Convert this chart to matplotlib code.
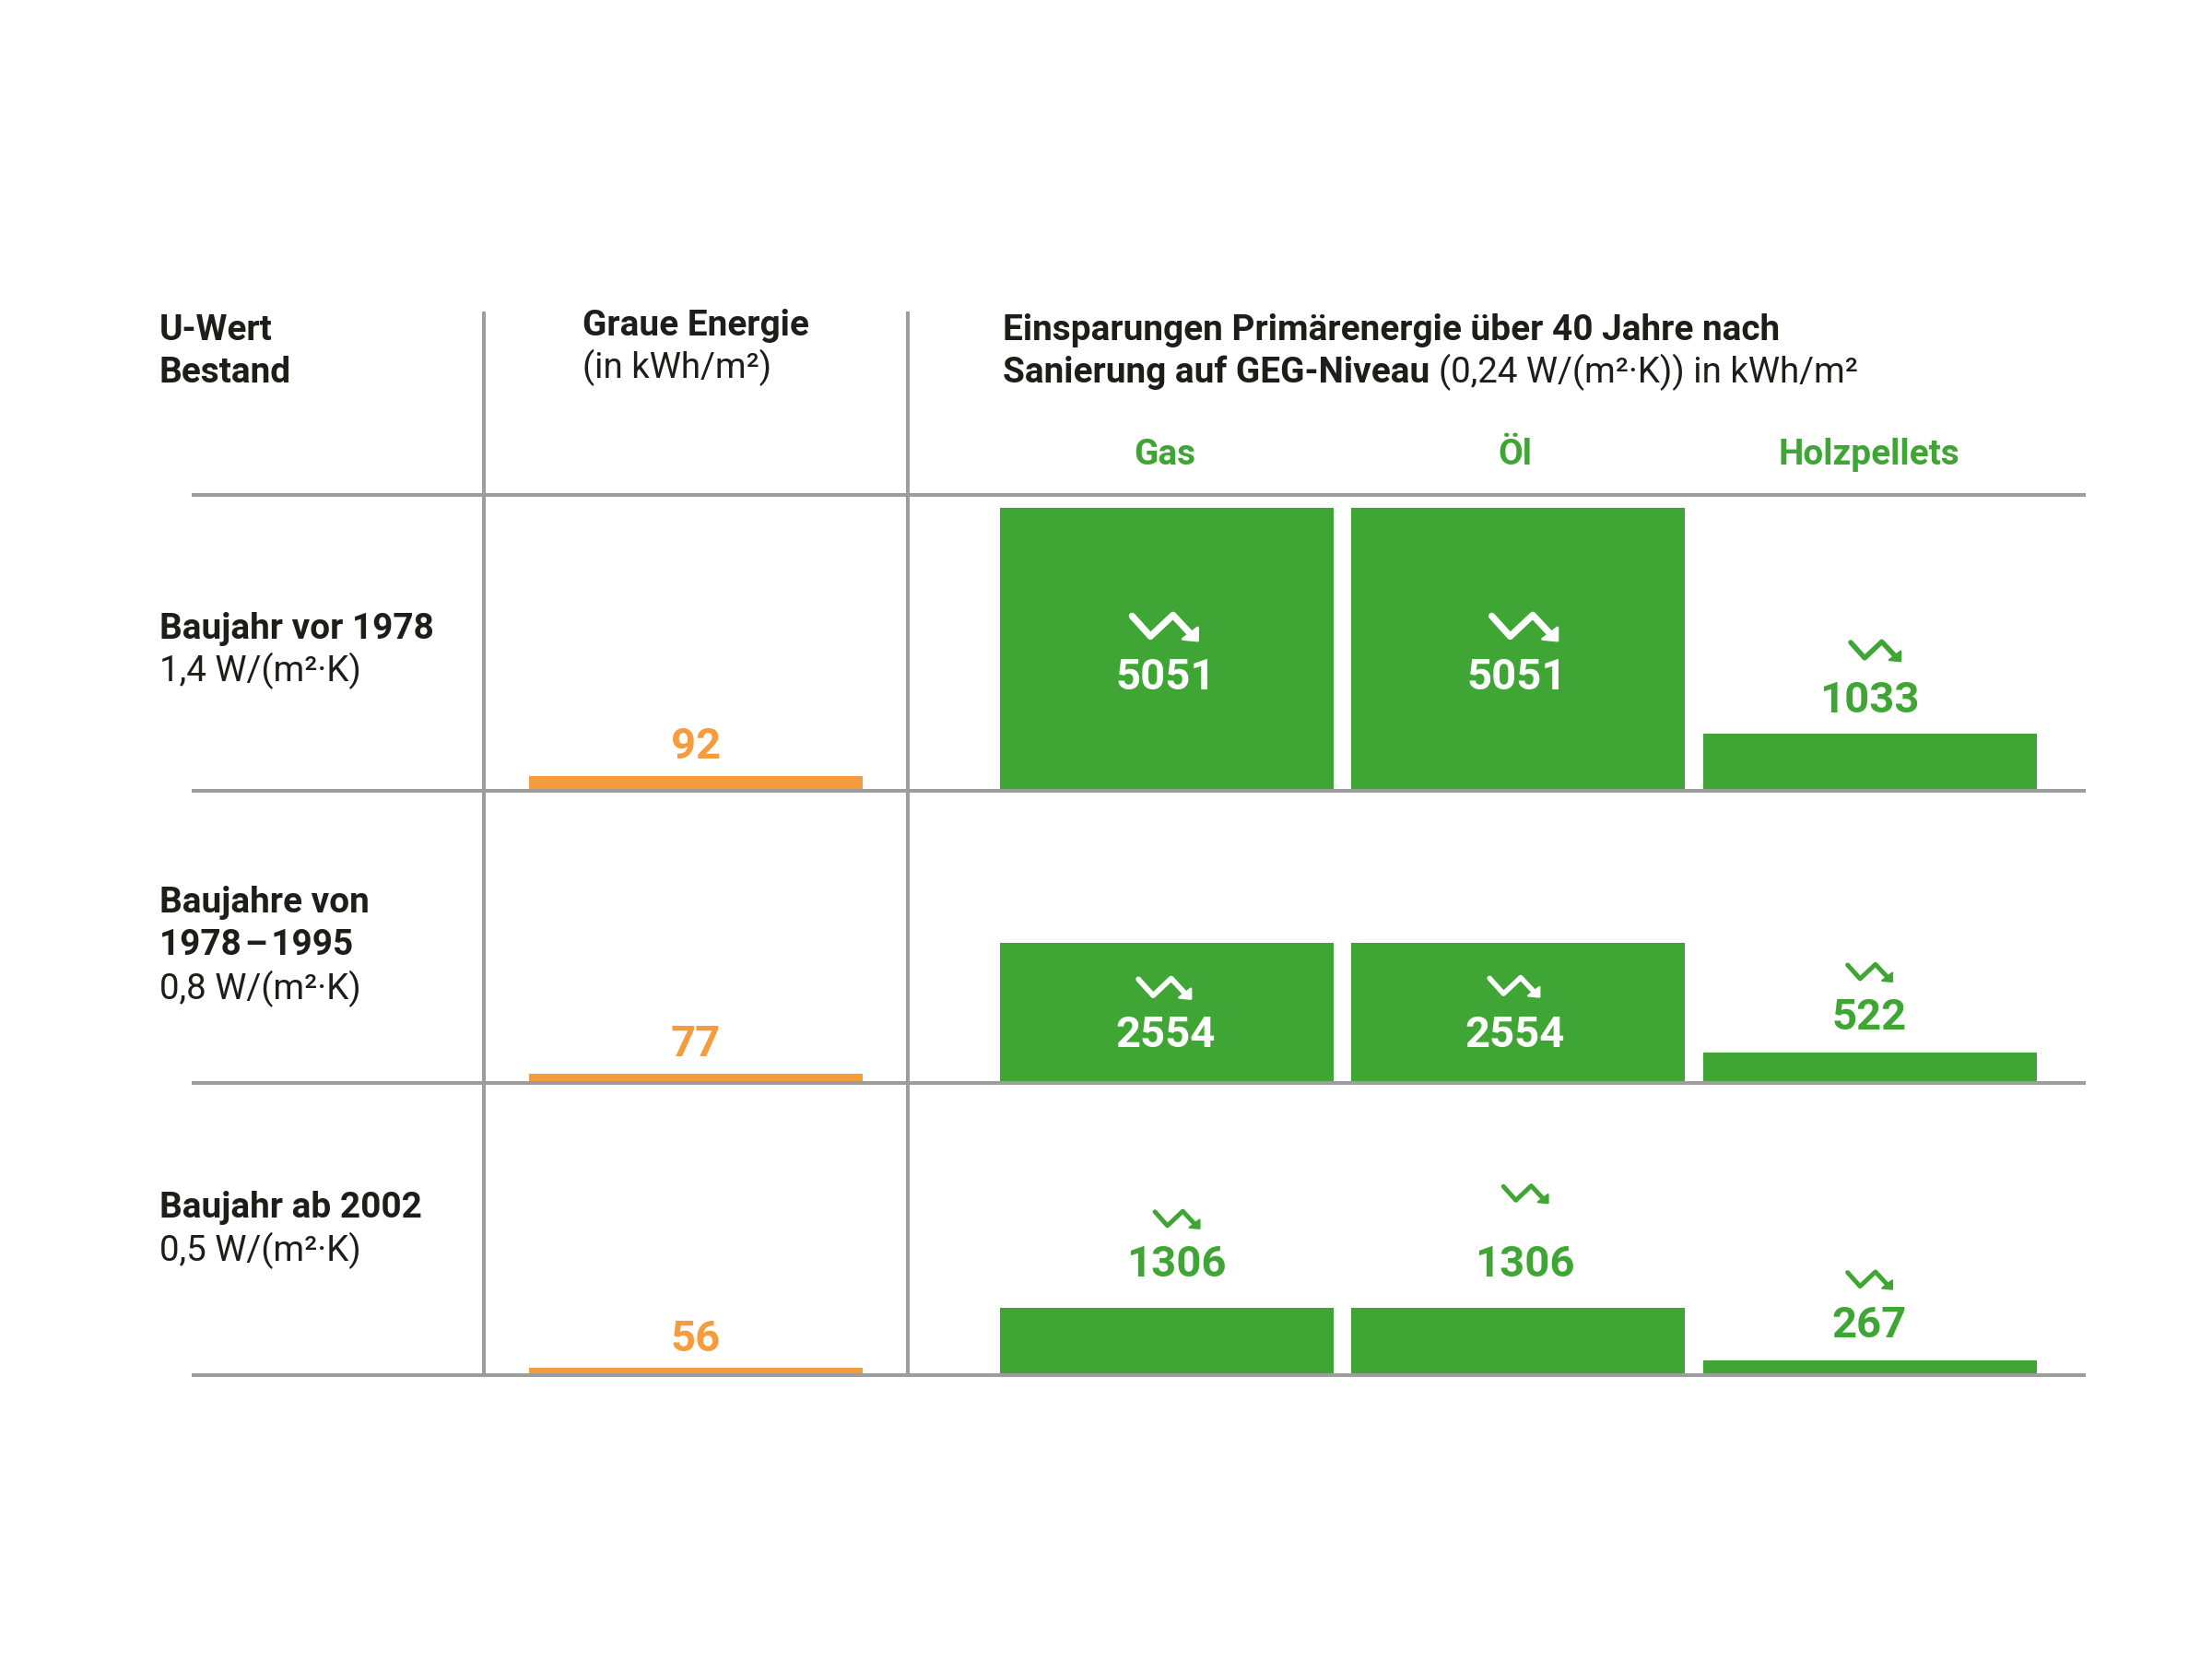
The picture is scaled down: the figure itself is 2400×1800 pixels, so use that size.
import matplotlib
matplotlib.use("Agg")
import matplotlib.pyplot as plt
from matplotlib.patches import Polygon

# ---------- data ----------
row_labels_bold = [["Baujahr vor 1978"], ["Baujahre von", "1978\u200a–\u200a1995"], ["Baujahr ab 2002"]]
row_labels_regular = ["1,4 W/(m²·K)", "0,8 W/(m²·K)", "0,5 W/(m²·K)"]
fuels = ["Gas", "Öl", "Holzpellets"]
green_labels = [[5051, 5051, 1033], [2554, 2554, 522], [1306, 1306, 267]]
# bar lengths as drawn in the picture (they do not all follow their labels exactly)
green_drawn = [[5051, 5051, 1010], [2500, 2500, 535], [1190, 1190, 250]]
orange_labels = [92, 77, 56]
orange_drawn = [92, 55, 46]

# ---------- style ----------
GREEN = "#3FA535"
ORANGE = "#F59C3E"
GRAY = "#9D9D9D"
INK = "#1D1D1B"
plt.rcParams["font.family"] = ["Roboto", "DejaVu Sans"]
S = 2400 / 1568  # layout grid of the page

W, H = 2400, 1800
fig = plt.figure(figsize=(24, 18), dpi=100, facecolor="white")


def add_axes(l, t, r, b):
    return fig.add_axes([l / W, 1 - b / H, (r - l) / W, (b - t) / H])


baselines = [857, 1174, 1491]

# bars
PX_GREEN = 306 / 5051
for rowi, base in enumerate(baselines):
    h = 310
    ax = add_axes(1074.75, base - h, 2219.25, base)
    ax.bar(range(3), green_drawn[rowi], width=362 / 381.5, color=GREEN)
    ax.set_xlim(-0.5, 2.5)
    ax.set_ylim(0, h / PX_GREEN)
    ax.axis("off")

PX_ORANGE = 15 / 92
for rowi, base in enumerate(baselines):
    h = 60
    ax = add_axes(574, base - h, 936, base)
    ax.bar([0], [orange_drawn[rowi]], width=1, color=ORANGE)
    ax.set_xlim(-0.5, 0.5)
    ax.set_ylim(0, h / PX_ORANGE)
    ax.axis("off")

# overlay in page pixels
ov = fig.add_axes([0, 0, 1, 1], zorder=5)
ov.set_xlim(0, W)
ov.set_ylim(H, 0)
ov.axis("off")
ov.patch.set_alpha(0)

for y in [536.7, 857.7, 1174.7, 1491.7]:
    ov.plot([208, 2263], [y, y], color=GRAY, lw=2.9, solid_capstyle="butt")
for x in [525, 985]:
    ov.plot([x, x], [338, 1491.7], color=GRAY, lw=2.9, solid_capstyle="butt")

HEAD = 27.9
REG = 27.7
VAL = 34.0


def txt(x, y, s, weight="regular", size=HEAD, color=INK, ha="left"):
    return ov.text(x * S, y * S + 0.355 * size * 100 / 72, s, fontsize=size,
                   fontweight=weight, color=color, ha=ha, va="baseline")


txt(113, 232, "U-Wert", "bold")
txt(113, 262, "Bestand", "bold")
txt(413, 229, "Graue Energie", "bold")
txt(413, 259, "(in kWh/m²)", size=REG)
txt(711, 232, "Einsparungen Primärenergie über 40 Jahre nach", "bold")
txt(711, 262, "Sanierung auf GEG-Niveau", "bold")
txt(1020, 262, "(0,24 W/(m²·K)) in kWh/m²", size=REG)

for s, x in zip(fuels, [826, 1074, 1325]):
    txt(x, 320.5, s, "bold", color=GREEN, ha="center")

txt(113, 444, row_labels_bold[0][0], "bold")
txt(113, 474, row_labels_regular[0], size=REG)
txt(113, 638, row_labels_bold[1][0], "bold")
txt(113, 668, row_labels_bold[1][1], "bold")
txt(113, 699, row_labels_regular[1], size=REG)
txt(113, 854, row_labels_bold[2][0], "bold")
txt(113, 885, row_labels_regular[2], size=REG)

for v, y in zip(orange_labels, [527, 738, 947]):
    txt(493, y, str(v), "bold", size=VAL, color=ORANGE, ha="center")

label_xy = [[(826, 478), (1075, 478), (1325, 494)],
            [(826, 731), (1074, 731), (1325, 719)],
            [(834, 894), (1081, 894), (1325, 937)]]
label_col = [["white", "white", GREEN], ["white", "white", GREEN], [GREEN, GREEN, GREEN]]
for r in range(3):
    for c in range(3):
        x, y = label_xy[r][c]
        txt(x, y, str(green_labels[r][c]), "bold", size=VAL, color=label_col[r][c], ha="center")

# trend icons: centre x, centre y, width on the page grid
ICON_LINE = [(-0.45, -0.147), (-0.19, 0.142), (0.13, -0.16), (0.40, 0.13)]
ICON_HEAD = [(0.48, 0.02), (0.48, 0.20), (0.27, 0.18)]


def icon(cx, cy, w, color):
    cx, cy, w = cx * S, cy * S, w * S
    xs = [cx + p[0] * w for p in ICON_LINE]
    ys = [cy + p[1] * w for p in ICON_LINE]
    ov.plot(xs, ys, color=color, lw=w * 0.095 * 72 / 100, solid_capstyle="round",
            solid_joinstyle="round")
    ov.add_patch(Polygon([(cx + p[0] * w, cy + p[1] * w) for p in ICON_HEAD],
                         closed=True, facecolor=color, edgecolor=color,
                         lw=w * 0.04 * 72 / 100, joinstyle="round"))


icons = [[(825, 444, 50, "white"), (1080, 444, 50, "white"), (1329, 461, 38, GREEN)],
         [(825, 700, 40, "white"), (1073, 699, 38, "white"), (1325, 689, 34, GREEN)],
         [(834, 864, 34, GREEN), (1081, 846, 34, GREEN), (1325, 907, 34, GREEN)]]
for row in icons:
    for cx, cy, w, col in row:
        icon(cx, cy, w, col)

fig.savefig("out.png", dpi=100, facecolor="white")
